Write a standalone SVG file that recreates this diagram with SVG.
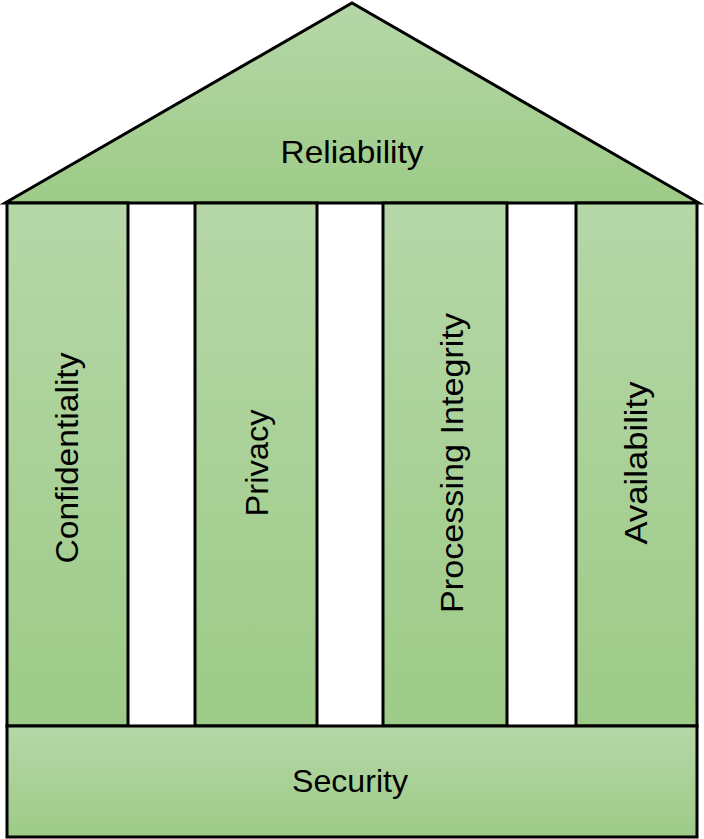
<svg xmlns="http://www.w3.org/2000/svg" width="704" height="839" viewBox="0 0 704 839">
<defs>
<linearGradient id="g" x1="0" y1="0" x2="0" y2="1">
<stop offset="0" stop-color="#b6d7a8"/>
<stop offset="1" stop-color="#9dcb87"/>
</linearGradient>
<style>
.s{fill:url(#g);stroke:#000;stroke-width:3;stroke-linejoin:miter}
.t{font-family:"Liberation Sans",Arial,sans-serif;font-size:32px;fill:#000;text-anchor:middle}
</style>
</defs>
<rect width="704" height="839" fill="#fff"/>
<g id="roof">
<polygon class="s" points="5,203 352,3 699,203"/>
<text class="t" x="352" y="163" textLength="143" lengthAdjust="spacingAndGlyphs">Reliability</text>
</g>
<g id="confidentiality">
<rect class="s" x="7" y="203" width="121" height="523"/>
<text class="t" transform="translate(78,458) rotate(-90)" textLength="211" lengthAdjust="spacingAndGlyphs">Confidentiality</text>
</g>
<g id="privacy">
<rect class="s" x="195" y="203" width="122" height="523"/>
<text class="t" transform="translate(268,463) rotate(-90)" textLength="107" lengthAdjust="spacingAndGlyphs">Privacy</text>
</g>
<g id="processing-integrity">
<rect class="s" x="383" y="203" width="124" height="523"/>
<text class="t" transform="translate(463,463) rotate(-90)" textLength="300" lengthAdjust="spacingAndGlyphs">Processing Integrity</text>
</g>
<g id="availability">
<rect class="s" x="576" y="203" width="121" height="523"/>
<text class="t" transform="translate(647,463) rotate(-90)" textLength="163" lengthAdjust="spacingAndGlyphs">Availability</text>
</g>
<g id="security">
<rect class="s" x="7" y="726" width="690" height="111"/>
<text class="t" x="350" y="792" textLength="116" lengthAdjust="spacingAndGlyphs">Security</text>
</g>
<g id="connectors"/>
</svg>
